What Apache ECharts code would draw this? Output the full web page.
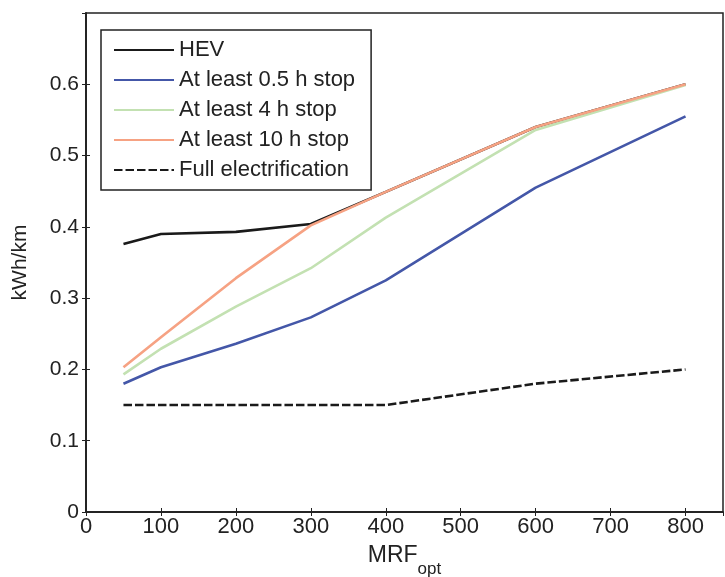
<!DOCTYPE html>
<html>
<head>
<meta charset="utf-8">
<script src="https://cdn.jsdelivr.net/npm/echarts@6/dist/echarts.min.js"></script>
<style>
  html, body { margin: 0; padding: 0; background: #fff; }
  #chart { width: 725px; height: 577px; }
</style>
</head>
<body>
<div id="chart"></div>
<script>
// MRF_opt values on the x axis
const mrf = [50, 100, 200, 300, 400, 600, 800];

// Energy use (kWh/km) per charging scenario
const hev        = [0.376, 0.390, 0.393, 0.404, 0.449, 0.540, 0.600];
const stop05h    = [0.180, 0.203, 0.236, 0.273, 0.325, 0.455, 0.555];
const stop4h     = [0.193, 0.229, 0.288, 0.342, 0.413, 0.536, 0.599];
const stop10h    = [0.203, 0.245, 0.328, 0.402, 0.449, 0.540, 0.600];
const fullElec   = [0.150, 0.150, 0.150, 0.150, 0.150, 0.180, 0.200];

const seriesNames = ['HEV', 'At least 0.5 h stop', 'At least 4 h stop', 'At least 10 h stop', 'Full electrification'];
const seriesData = [hev, stop05h, stop4h, stop10h, fullElec];
const seriesColors = ['#1a1a1a', '#4457a8', '#c3e1b2', '#f6a283', '#1a1a1a'];
const seriesDash = ['solid', 'solid', 'solid', 'solid', [8.5, 3]];

const FONT = '"Liberation Sans", Arial, sans-serif';

const chart = echarts.init(document.getElementById('chart'), null, { renderer: 'canvas' });

const pair = (xs, ys) => xs.map((x, i) => [x, ys[i]]);

const tickStyle = { show: true, inside: true, length: 4, lineStyle: { color: '#222', width: 1 } };

chart.setOption({
  animation: false,
  backgroundColor: '#fff',
  textStyle: { fontFamily: FONT },
  grid: { left: 86, right: 2, top: 13, bottom: 65, containLabel: false, outerBoundsMode: 'none',
          show: true, borderColor: '#222', borderWidth: 1.5 },
  legend: {
    orient: 'vertical',
    left: 101, top: 30,
    padding: [9, 16, 9, 12],
    itemWidth: 60, itemHeight: 14, itemGap: 8,
    backgroundColor: '#fff',
    borderColor: '#222', borderWidth: 1.5,
    itemStyle: { opacity: 0 },
    textStyle: { fontFamily: FONT, fontSize: 22, color: '#222', padding: [0, 0, 0, 0] },
    data: seriesNames
  },
  xAxis: [{
    type: 'value', min: 0, max: 850, interval: 100,
    name: '{m|MRF}{s|opt}', nameLocation: 'middle', nameGap: 22,
    nameTextStyle: { rich: {
      m: { fontFamily: FONT, fontSize: 23, color: '#222' },
      s: { fontFamily: FONT, fontSize: 17, color: '#222', padding: [27, 0, 0, 0] }
    } },
    axisLine: { show: true, onZero: false, lineStyle: { color: '#222', width: 1.5 } },
    axisTick: tickStyle,
    axisLabel: { fontFamily: FONT, fontSize: 22, color: '#222', margin: 4, showMaxLabel: false },
    splitLine: { show: false }
  }, {
    type: 'value', position: 'top', min: 0, max: 850, interval: 100,
    axisLine: { show: true, lineStyle: { color: '#222', width: 1.5 } },
    axisTick: tickStyle, axisLabel: { show: false }, splitLine: { show: false }
  }],
  yAxis: [{
    type: 'value', min: 0, max: 0.7, interval: 0.1,
    name: 'kWh/km', nameLocation: 'middle', nameGap: 55, nameRotate: 90,
    nameTextStyle: { fontFamily: FONT, fontSize: 21, color: '#222' },
    axisLine: { show: true, onZero: false, lineStyle: { color: '#222', width: 1.5 } },
    axisTick: tickStyle,
    axisLabel: { fontFamily: FONT, fontSize: 21, color: '#222', margin: 7, showMaxLabel: false,
                 formatter: v => (Math.round(v * 10) / 10).toString() },
    splitLine: { show: false }
  }, {
    type: 'value', position: 'right', min: 0, max: 0.7, interval: 0.1,
    axisLine: { show: true, lineStyle: { color: '#222', width: 1.5 } },
    axisTick: tickStyle, axisLabel: { show: false }, splitLine: { show: false }
  }],
  series: seriesNames.map((name, i) => ({
    name: name,
    type: 'line',
    xAxisIndex: 0, yAxisIndex: 0,
    data: pair(mrf, seriesData[i]),
    symbol: 'none',
    color: seriesColors[i],
    lineStyle: { color: seriesColors[i], width: 2.6, type: seriesDash[i] },
    z: i === 4 ? 3 : 2 + i * 0.1
  }))
});
</script>
</body>
</html>
